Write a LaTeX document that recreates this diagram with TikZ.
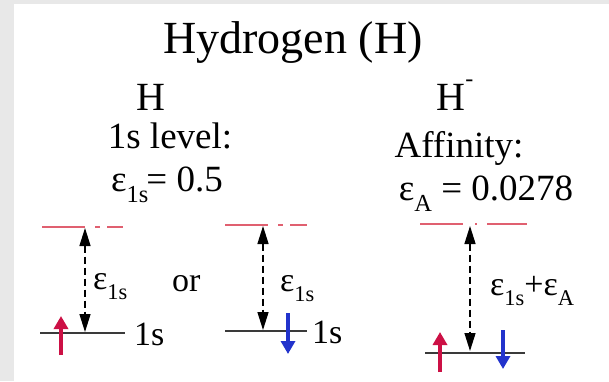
\documentclass[tikz,border=0pt]{standalone}
\usepackage{fontspec}
\newfontfamily\fa{Liberation Serif}
\usetikzlibrary{arrows.meta}
\definecolor{bggray}{HTML}{E8E8E8}
\definecolor{lvlred}{HTML}{E06070}
\definecolor{spinred}{HTML}{CC1045}
\definecolor{spinblue}{HTML}{2233CC}
\definecolor{lvlgray}{HTML}{3A3A3A}
\newcommand{\lowsub}[1]{\raisebox{-0.3em}{\scalebox{0.66}{#1}}}
\tikzset{
  txt/.style={inner sep=0pt, anchor=base, font=\fa\fontsize{37}{40}\selectfont},
  big/.style={inner sep=0pt, anchor=base, font=\fa\fontsize{46}{50}\selectfont},
  lbl/.style={inner sep=0pt, anchor=base west, font=\fa\fontsize{34}{36}\selectfont},
  toplvl/.style={draw=lvlred, line width=1.8pt},
  lowlvl/.style={draw=lvlgray, line width=2.4pt},
  gap/.style={draw=black, line width=1.4pt, dash pattern=on 7pt off 4pt,
    {Triangle[length=18pt,width=11pt]}-{Triangle[length=18pt,width=11pt]}},
  upspin/.style={draw=spinred, line width=3.5pt, -{Triangle[length=13pt,width=14pt]}},
  downspin/.style={draw=spinblue, line width=3.5pt, -{Triangle[length=13pt,width=14pt]}},
}
\begin{document}
\begin{tikzpicture}[x=1pt,y=-1pt]
\useasboundingbox (0,0) rectangle (609,381);
\fill[bggray] (0,0) rectangle (609,381);
\fill[white] (14,4) rectangle (609,381);

% texts
\node[big] (title) at (293,53) {Hydrogen (H)};
\node[txt, font=\fa\fontsize{40}{44}\selectfont] (hA) at (151,110) {H};
\node[txt] (lvl) at (170,148) {1s level:};
\node[txt] (e1s) at (167,191) {ε\lowsub{1s}\kern-2pt= 0.5};
\node[txt, font=\fa\fontsize{40}{44}\selectfont] (hB) at (455,110) {H\raisebox{0.6em}{\scalebox{0.6}{-}}};
\node[txt] (aff) at (459,157) {Affinity:};
\node[txt] (eA) at (486,200) {ε\lowsub{A} = 0.0278};

% left diagram
\draw[toplvl, dash pattern=on 43pt off 10pt on 5pt off 7pt on 30pt] (42,227) -- (123,227);
\draw[lowlvl] (40,333) -- (125,333);
\coordinate (l1t) at (85,228);
\coordinate (l1b) at (85,332);
\draw[gap] (l1t) -- (l1b);
\node[lbl] (l1e) at (93,289) {ε\lowsub{1s}};
\node[lbl] (or) at (172,291) {or};
\node[lbl] (l1s) at (134,345) {1s};
\coordinate (s1a) at (61,355);
\coordinate (s1b) at (61,316);
\draw[upspin] (s1a) -- (s1b);

% middle diagram
\draw[toplvl, dash pattern=on 43pt off 10pt on 5pt off 7pt on 30pt] (225,225) -- (307,225);
\draw[lowlvl] (225,331) -- (307,331);
\coordinate (l2t) at (263,226);
\coordinate (l2b) at (263,330);
\draw[gap] (l2t) -- (l2b);
\node[lbl] (l2e) at (280,291) {ε\lowsub{1s}};
\node[lbl] (l2s) at (312,343) {1s};
\coordinate (s2a) at (288,313);
\coordinate (s2b) at (288,354);
\draw[downspin] (s2a) -- (s2b);

% right diagram
\draw[toplvl, dash pattern=on 43pt off 12pt on 2pt off 10pt on 60pt] (420,224) -- (527,224);
\draw[lowlvl] (425,353) -- (525,353);
\coordinate (l3t) at (470,226);
\coordinate (l3b) at (470,351);
\draw[gap] (l3t) -- (l3b);
\node[lbl] (l3e) at (490,295) {ε\lowsub{1s}+ε\lowsub{A}};
\coordinate (s3a) at (440,372);
\coordinate (s3b) at (440,332);
\draw[upspin] (s3a) -- (s3b);
\coordinate (s4a) at (503,330);
\coordinate (s4b) at (503,369);
\draw[downspin] (s4a) -- (s4b);
\end{tikzpicture}
\end{document}
